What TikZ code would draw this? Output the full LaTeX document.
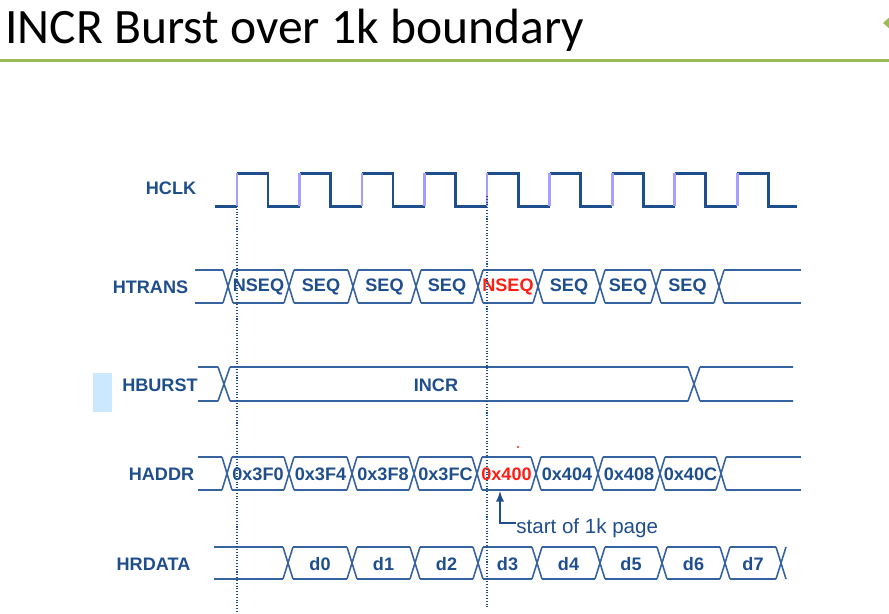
\documentclass[tikz,border=0pt]{standalone}
\usepackage{fontspec}
\setmainfont{Liberation Sans}
\newfontfamily\titlefont{Carlito}
\usetikzlibrary{arrows,shapes,positioning}

\definecolor{sigblue}{RGB}{31,78,140}
\definecolor{busblue}{RGB}{55,98,160}
\definecolor{edgepurple}{RGB}{165,160,255}
\definecolor{hotred}{RGB}{255,30,20}
\definecolor{rulegreen}{RGB}{155,187,89}
\definecolor{markblue}{RGB}{204,232,255}

\tikzset{
  signame/.style={font=\bfseries\fontsize{10.3}{12}\selectfont, text=sigblue, inner sep=0pt},
  cellval/.style={font=\bfseries\fontsize{10.3}{12}\selectfont, inner sep=0pt},
  busline/.style={busblue, line width=0.9pt},
  clkline/.style={sigblue, line width=1.7pt},
  clkrise/.style={edgepurple, line width=1.7pt},
  guide/.style={sigblue, densely dotted, line width=0.6pt},
}

\begin{document}
\begin{tikzpicture}[x=0.02cm, y=-0.02cm]
            \useasboundingbox (0,0) rectangle (889,613);
            % title and rule
            \node[anchor=base west, inner sep=0pt, font=\titlefont\fontsize{28.2}{30}\selectfont] (title) at (5,43) {INCR Burst over 1k boundary};
            \draw[rulegreen, line width=1.5pt] (0,60.5) -- (889,60.5);
            \fill[rulegreen] (891,16) -- (883,23) -- (891,30) -- cycle;
            \fill[markblue] (93,373) rectangle (112,412);

            % signal names
            \node[signame] (hclk) at (171,188) {HCLK};
            \node[signame] (htrans) at (150.5,287) {HTRANS};
            \node[signame] (hburst) at (160,385) {HBURST};
            \node[signame] (haddr) at (161.5,474) {HADDR};
            \node[signame] (hrdata) at (153.5,564) {HRDATA};

            % clock
            \draw[clkline] (215,206) -- (237,206);
            \foreach \k in {0,...,8} {
                \pgfmathsetmacro\r{237+62.5*\k}
                \draw[clkline] (\r,173) -- (\r+31,173) -- (\r+31,206) -- ({min(\r+62.5,797)},206);
                \draw[clkrise] (\r,206) -- (\r,173);
            }

            % HTRANS
            \draw[busline] (195,270) -- (223,270) (195,303) -- (223,303) (724,270) -- (801,270) (724,303) -- (801,303);
            \foreach \c in {228,289,353,416,478,538,600,656,719}
                \draw[busline] (\c-5,270) -- (\c+5,303) (\c-5,303) -- (\c+5,270);
            \foreach \a/\b/\txt/\col [count=\i] in {228/289/NSEQ/sigblue, 289/353/SEQ/sigblue, 353/416/SEQ/sigblue, 416/478/SEQ/sigblue, 478/538/NSEQ/hotred, 538/600/SEQ/sigblue, 600/656/SEQ/sigblue, 656/719/SEQ/sigblue} {
                \draw[busline] (\a+5,270) -- (\b-5,270) (\a+5,303) -- (\b-5,303);
                \node[cellval, text=\col] (trans-\i) at ({(\a+\b)/2},287) {\txt};
            }

            % HBURST
            \draw[busline] (198,367) -- (218,367) (198,401) -- (218,401)
                (218,367) -- (230,401) (218,401) -- (230,367)
                (230,367) -- (688,367) (230,401) -- (688,401)
                (688,367) -- (700,401) (688,401) -- (700,367)
                (700,367) -- (793,367) (700,401) -- (793,401);
            \node[cellval, text=sigblue] (burst-1) at (436,385) {INCR};

            % HADDR
            \draw[busline] (198,457) -- (222,457) (198,490) -- (222,490) (726,457) -- (801,457) (726,490) -- (801,490);
            \foreach \c in {227,289,352,414,477,536,598,660,721}
                \draw[busline] (\c-5,457) -- (\c+5,490) (\c-5,490) -- (\c+5,457);
            \foreach \a/\b/\txt/\col [count=\i] in {227/289/0x3F0/sigblue, 289/352/0x3F4/sigblue, 352/414/0x3F8/sigblue, 414/477/0x3FC/sigblue, 477/536/0x400/hotred, 536/598/0x404/sigblue, 598/660/0x408/sigblue, 660/721/0x40C/sigblue} {
                \draw[busline] (\a+5,457) -- (\b-5,457) (\a+5,490) -- (\b-5,490);
                \node[cellval, text=\col] (addr-\i) at ({(\a+\b)/2},474) {\txt};
            }
            \fill[hotred] (518,447) circle (1.2);

            % HRDATA
            \draw[busline] (214,547) -- (283,547) (214,579) -- (283,579);
            \foreach \c in {288,352,415,478,537,600,662,725,781}
                \draw[busline] (\c-5,547) -- (\c+5,579) (\c-5,579) -- (\c+5,547);
            \foreach \a/\b [count=\i from 0] in {288/352, 352/415, 415/478, 478/537, 537/600, 600/662, 662/725, 725/781} {
                \draw[busline] (\a+5,547) -- (\b-5,547) (\a+5,579) -- (\b-5,579);
                \node[cellval, text=sigblue] (data-\i) at ({(\a+\b)/2},564) {d\i};
            }

            % guides
            \draw[guide] (237,206) -- (237,613);
            \draw[guide] (487,196) -- (487,608);

            % page note
            \coordinate (boundary) at (500,491);
            \coordinate (pagebend) at (500,523);
            \node[anchor=base west, inner sep=0pt, text=sigblue, font=\fontsize{11.7}{13}\selectfont] (pagenote) at (516,533) {start of 1k page};
            \draw[sigblue, line width=1.1pt, -latex] (pagenote.west |- pagebend) -- (pagebend) -- (boundary);
        \end{tikzpicture}
\end{document}
